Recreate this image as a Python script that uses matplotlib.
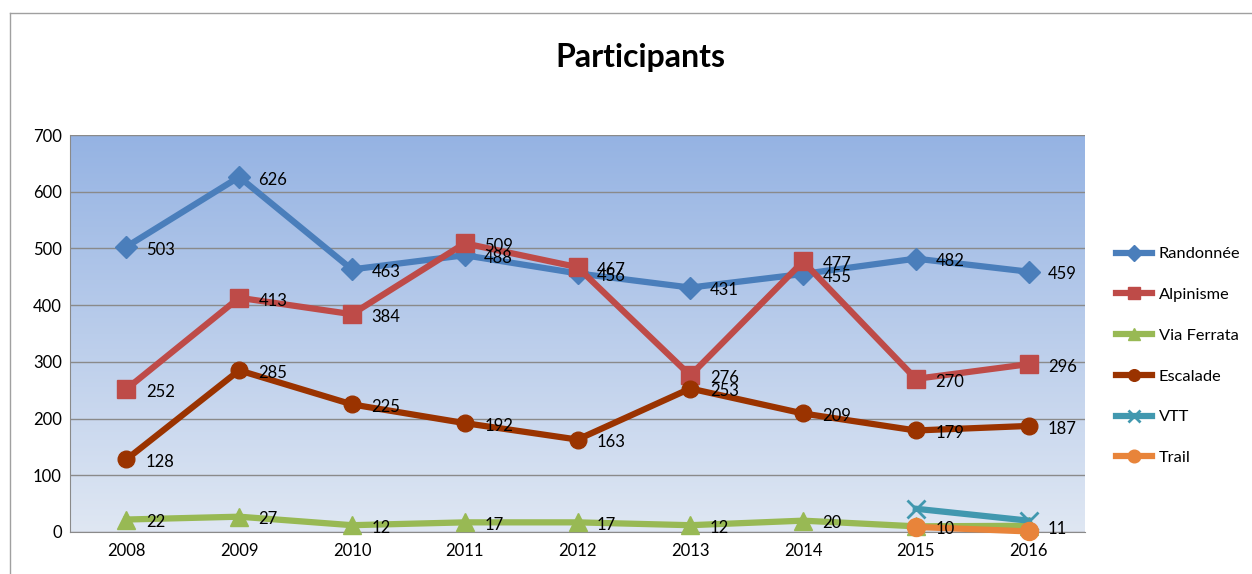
import numpy as np
import matplotlib
matplotlib.use("Agg")
import matplotlib.pyplot as plt
from matplotlib.lines import Line2D

plt.rcParams['font.family'] = ['Lato', 'DejaVu Sans']

years = ['2008', '2009', '2010', '2011', '2012', '2013', '2014', '2015', '2016']
randonnee = [503, 626, 463, 488, 456, 431, 455, 482, 459]
alpinisme = [252, 413, 384, 509, 467, 276, 477, 270, 296]
via_ferrata = [22, 27, 12, 17, 17, 12, 20, 10, 11]
escalade = [128, 285, 225, 192, 163, 253, 209, 179, 187]
vtt_years = ['2015', '2016']
vtt = [41, 20]
trail_years = ['2015', '2016']
trail = [9, 1]

series = [
    ('Randonnée', years, randonnee, '#4a7ebb', 'D', 11, True),
    ('Alpinisme', years, alpinisme, '#be4b48', 's', 13, True),
    ('Via Ferrata', years, via_ferrata, '#98b954', '^', 13, True),
    ('Escalade', years, escalade, '#9a3300', 'o', 12, True),
    ('VTT', vtt_years, vtt, '#4198af', 'x', 13, False),
    ('Trail', trail_years, trail, '#e8843a', 'o', 13, False),
]

fig = plt.figure(figsize=(12.52, 5.74), dpi=100)
ax = fig.add_axes([70 / 1252, 42 / 574, 1015 / 1252, 397 / 574])

# chart border (top + left visible)
fig.add_artist(Line2D([10 / 1252, 10 / 1252], [0, 1 - 13 / 574], transform=fig.transFigure, color='#a0a0a0', lw=1))
fig.add_artist(Line2D([10 / 1252, 1], [1 - 13 / 574, 1 - 13 / 574], transform=fig.transFigure, color='#a0a0a0', lw=1))

xpos = {y: i for i, y in enumerate(years)}
ax.set_xlim(-0.5, len(years) - 0.5)
ax.set_ylim(0, 700)

# gradient background
grad = np.linspace(0, 1, 256).reshape(-1, 1)
top = np.array([0x95, 0xb3, 0xe3]) / 255
bot = np.array([0xdf, 0xe7, 0xf3]) / 255
img = bot + (top - bot) * grad[..., None]
ax.imshow(img, extent=[-0.5, len(years) - 0.5, 0, 700], origin='lower', aspect='auto', zorder=0)

ax.set_yticks(range(0, 701, 100))
ax.yaxis.grid(True, color='#8a8a8a', lw=1)
ax.set_axisbelow(True)
for gl in ax.get_ygridlines():
    gl.set_zorder(0.5)

ax.set_xticks(range(len(years)))
ax.set_xticklabels(years)
ax.tick_params(axis='both', labelsize=12, length=0, pad=8)
ax.tick_params(axis='y', pad=6)
for s in ['top', 'right']:
    ax.spines[s].set_visible(False)
for s in ['left', 'bottom']:
    ax.spines[s].set_color('#8a8a8a')

handles = []
for name, xs, ys, color, marker, ms, labels in series:
    x = [xpos[v] for v in xs]
    mew = 2 if marker == 'x' else 1
    ax.plot(x, ys, color=color, lw=4.5, marker=marker, ms=ms, mew=mew, mec=color, mfc=color, zorder=3, clip_on=False)
    handles.append(Line2D([0], [0], color=color, lw=4.5, marker=marker, ms=ms * 0.7, mew=mew, mec=color, mfc=color))
    if labels:
        for xi, yi in zip(x, ys):
            ax.annotate(str(yi), (xi, yi), xytext=(14, -2), textcoords='offset points',
                        ha='left', va='center', fontsize=12, zorder=4)

fig.text(640 / 1252, 1 - 58 / 574, 'Participants', ha='center', va='center', fontsize=23, fontweight='bold')

fig.legend(handles, [s[0] for s in series], loc='center left', bbox_to_anchor=(1116 / 1252, 1 - 356 / 574),
           frameon=False, fontsize=11.8, handlelength=2.2, labelspacing=1.6, handletextpad=0.42,
           borderpad=0, borderaxespad=0)

plt.savefig('out.png', dpi=100)
